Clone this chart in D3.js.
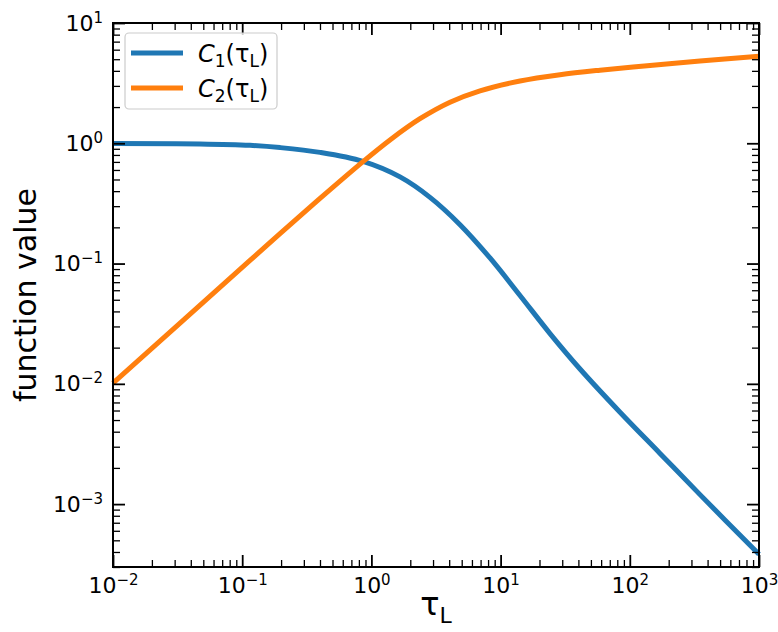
<!DOCTYPE html>
<html>
<head>
<meta charset="utf-8">
<script src="https://cdn.jsdelivr.net/npm/d3@7"></script>
<style>
  body { margin: 0; background: #fff; }
  svg { font-family: "DejaVu Sans", sans-serif; }
</style>
</head>
<body>
<svg width="778" height="632"></svg>
<script>
// values
var tau1 = [0.01, 0.0471, 0.1149, 0.1962, 0.4002, 0.861, 1.665, 2.842, 4.852, 8.279, 14.13, 24.12, 41.18, 83.99, 171.3, 349.4, 1000];
var c1   = [0.9952, 0.9876, 0.9616, 0.9209, 0.84, 0.7066, 0.5252, 0.3552, 0.2106, 0.1113, 0.05428, 0.02618, 0.01329, 0.00581, 0.00264, 0.001199, 0.000383];

var tau2 = [0.01, 0.1149, 0.1962, 0.4002, 0.861, 1.393, 2.377, 4.059, 6.928, 14.13, 28.83, 58.79, 143.3, 349.4, 1000];
var c2   = [0.01014, 0.1061, 0.1772, 0.3478, 0.7037, 1.066, 1.6, 2.195, 2.731, 3.294, 3.716, 4.051, 4.433, 4.823, 5.295];

var xMajor = [-2, -1, 0, 1, 2, 3];
var yMajor = [-3, -2, -1, 0, 1];

var svg = d3.select("svg"),
    margin = {top: 23, right: 19, bottom: 65, left: 113},
    width = +svg.attr("width"),
    height = +svg.attr("height");

var x = d3.scaleLog()
    .domain([0.01, 1000])
    .range([margin.left, width - margin.right]);

var y = d3.scaleLog()
    .domain([3e-4, 10])
    .range([height - margin.bottom, margin.top]);

function minors(lo, hi) {
    var out = [];
    for (var e = lo; e < hi; e++) {
        for (var k = 2; k < 10; k++) out.push(k * Math.pow(10, e));
    }
    return out;
}
var xMinor = minors(-2, 3);
var yMinor = minors(-4, 1).filter(function(v) { return v >= 3e-4 && v <= 10; });

function sup(sel) {
    sel.each(function(d) {
        var t = d3.select(this);
        var e = Math.round(Math.log10(d));
        t.text(null);
        t.append("tspan").text("10");
        t.append("tspan")
            .attr("dy", -8)
            .style("font-size", "15px")
            .text(e < 0 ? "\u2212" + (-e) : e);
    });
}

var curves = svg.append("g");

var line = d3.line()
    .x(function(d) { return x(d[0]); })
    .y(function(d) { return y(d[1]); })
    .curve(d3.curveCatmullRom.alpha(0.5));

curves.append("path")
    .datum(tau1.map(function(t, i) { return [t, c1[i]]; }))
    .attr("fill", "none")
    .attr("stroke", "#1f77b4")
    .attr("stroke-width", 5)
    .attr("d", line);

curves.append("path")
    .datum(tau2.map(function(t, i) { return [t, c2[i]]; }))
    .attr("fill", "none")
    .attr("stroke", "#ff7f0e")
    .attr("stroke-width", 5)
    .attr("d", line);

var bottomY = height - margin.bottom,
    rightX = width - margin.right;

function tickAxis(axis, tx, ty, vals, size, w, labels) {
    var g = svg.append("g")
        .attr("transform", "translate(" + tx + "," + ty + ")")
        .call(axis.tickValues(vals).tickSizeInner(-size).tickSizeOuter(0).tickPadding(10)
            .tickFormat(labels ? function(d) { return d; } : ""));
    g.attr("font-size", null).attr("font-family", null);
    g.select(".domain").remove();
    g.selectAll(".tick line").attr("stroke", "#000").attr("stroke-width", w);
    g.selectAll(".tick text").style("font-size", "22px").attr("fill", "#000");
    if (labels) g.selectAll(".tick text").call(sup);
    return g;
}

var xMajVals = xMajor.map(function(e) { return Math.pow(10, e); });
var yMajVals = yMajor.map(function(e) { return Math.pow(10, e); });

tickAxis(d3.axisBottom(x), 0, bottomY, xMajVals, 12, 1.8, true);
tickAxis(d3.axisBottom(x), 0, bottomY, xMinor, 7, 1.3, false);
tickAxis(d3.axisTop(x), 0, margin.top, xMajVals, 12, 1.8, false);
tickAxis(d3.axisTop(x), 0, margin.top, xMinor, 7, 1.3, false);
tickAxis(d3.axisLeft(y), margin.left, 0, yMajVals, 12, 1.8, true);
tickAxis(d3.axisLeft(y), margin.left, 0, yMinor, 7, 1.3, false);
tickAxis(d3.axisRight(y), rightX, 0, yMajVals, 12, 1.8, false);
tickAxis(d3.axisRight(y), rightX, 0, yMinor, 7, 1.3, false);

// frame
svg.append("rect")
    .attr("x", margin.left)
    .attr("y", margin.top)
    .attr("width", rightX - margin.left)
    .attr("height", bottomY - margin.top)
    .attr("fill", "none")
    .attr("stroke", "#000")
    .attr("stroke-width", 2);

// axis labels
var xl = svg.append("text")
    .attr("x", 436)
    .attr("y", 615)
    .attr("text-anchor", "middle")
    .style("font-size", "32px");
xl.append("tspan").text("\u03c4");
xl.append("tspan").attr("dy", 8).style("font-size", "22px").text("L");

svg.append("text")
    .attr("transform", "translate(36," + ((margin.top + bottomY) / 2) + ") rotate(-90)")
    .attr("text-anchor", "middle")
    .style("font-size", "30px")
    .text("function value");

// legend
var names = [["C", "1"], ["C", "2"]];
var colors = ["#1f77b4", "#ff7f0e"];

var lg = svg.append("g");
lg.append("rect")
    .attr("x", 125).attr("y", 33)
    .attr("width", 152).attr("height", 76)
    .attr("rx", 4)
    .attr("fill", "#fff").attr("fill-opacity", 0.8)
    .attr("stroke", "#cccccc").attr("stroke-width", 1.2);

names.forEach(function(n, i) {
    var cy = 53 + i * 35;
    lg.append("line")
        .attr("x1", 131).attr("x2", 183)
        .attr("y1", cy).attr("y2", cy)
        .attr("stroke", colors[i]).attr("stroke-width", 5);
    var t = lg.append("text")
        .attr("x", 198).attr("y", cy + 9)
        .style("font-size", "24px");
    t.append("tspan").style("font-style", "italic").text(n[0]);
    t.append("tspan").attr("dy", 5).style("font-size", "17px").text(n[1]);
    t.append("tspan").attr("dy", -5).text("(\u03c4");
    t.append("tspan").attr("dy", 5).style("font-size", "17px").text("L");
    t.append("tspan").attr("dy", -5).text(")");
});
</script>
</body>
</html>
